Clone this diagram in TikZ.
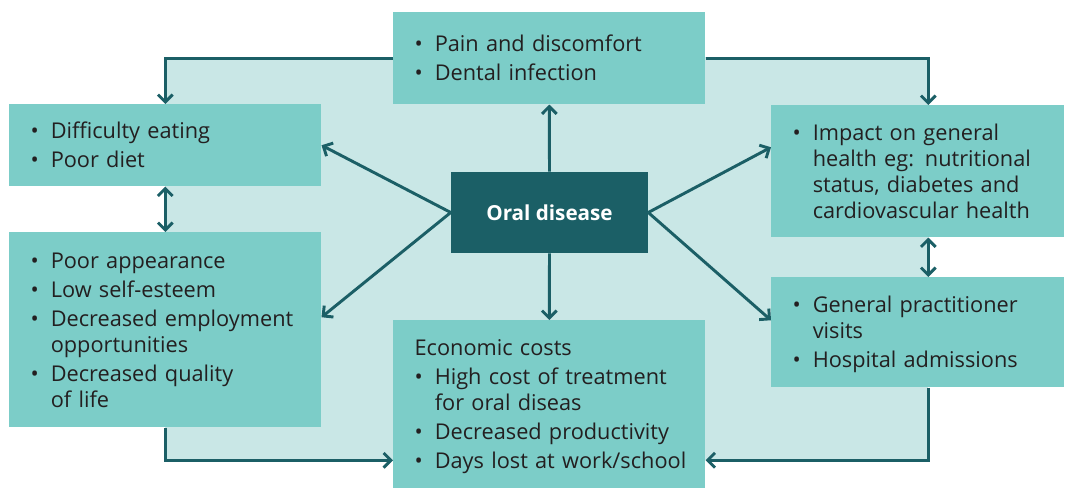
\documentclass[tikz,border=0pt]{standalone}
\usepackage{fontspec}
\setmainfont{Open Sans}
\usetikzlibrary{positioning, arrows.meta}

\definecolor{boxteal}{HTML}{7CCDC8}
\definecolor{paleteal}{HTML}{C9E7E6}
\definecolor{darkteal}{HTML}{1B5F66}
\definecolor{inktext}{HTML}{231F20}
\newcommand{\bl}{\textbullet}
\newcommand{\gap}{\\[2.25pt]}
\newcommand{\boxlist}[1]{\raisebox{-2.25pt}[\height][\depth]{%
  \begin{tabular}{@{}l@{\hspace{9pt}}l@{}}#1\end{tabular}}}

\begin{document}
\begin{tikzpicture}
            [x=0.75pt, y=-0.75pt,
             infobox/.style={fill=boxteal, text=inktext, anchor=north west, inner xsep=16pt, inner ysep=0pt,
                             align=left, font=\fontsize{16.3}{19.5}\selectfont},
             corebox/.style={fill=darkteal, text=white, font=\fontsize{15.5}{18}\selectfont\bfseries,
                             minimum width=147.75pt, minimum height=60.75pt},
             link/.style={draw=darkteal, line width=2.2pt, ->},
             twoway/.style={draw=darkteal, line width=2.2pt, <->},
             >={Straight Barb[length=5.5pt, width=11pt]}]
            \useasboundingbox (0,0) rectangle (1073,488);
            \fill[paleteal] (165,57) rectangle (928,460);

            \node[infobox, text width=202pt, minimum height=69pt] (pain) at (393,12)
                {\boxlist{\bl & Pain and discomfort\gap
                          \bl & Dental infection}};
            \node[infobox, text width=202pt, minimum height=61.5pt] (eat) at (9,104)
                {\boxlist{\bl & Difficulty eating\gap
                          \bl & Poor diet}};
            \node[infobox, text width=202pt, minimum height=146.25pt] (looks) at (9,232)
                {\boxlist{\bl & Poor appearance\gap
                          \bl & Low self-esteem\gap
                          \bl & Decreased employment\\
                              & opportunities\gap
                          \bl & Decreased quality\\
                              & of life}};
            \node[infobox, text width=187.75pt, minimum height=99pt] (health) at (771,105)
                {\boxlist{\bl & Impact on general\\
                              & health eg: nutritional\\
                              & status, diabetes and\\
                              & cardiovascular health}};
            \node[infobox, text width=187.75pt, minimum height=82.5pt] (visits) at (771,277)
                {\boxlist{\bl & General practitioner\\
                              & visits\gap
                          \bl & Hospital admissions}};
            \node[infobox, text width=202pt, minimum height=126pt] (costs) at (393,320)
                {\boxlist{\multicolumn{2}{@{}l@{}}{Economic costs}\gap
                          \bl & High cost of treatment\\
                              & for oral diseas\gap
                          \bl & Decreased productivity\gap
                          \bl & Days lost at work/school}};
            \node[corebox] (oral) at (549.5,212.5) {Oral disease};

            % arrows out of the centre
            \draw[link] (oral.north) -- (pain.south);
            \draw[link] (oral.south) -- (costs.north);
            \draw[link] (oral.west) -- (eat.east);
            \draw[link] (oral.west) -- ([yshift=9.4pt]looks.east);
            \draw[link] (oral.east) -- ([yshift=18pt]health.west);
            \draw[link] (oral.east) -- ([yshift=9pt]visits.west);

            % outer frame
            \draw[link] (pain.west) -| (eat.north);
            \draw[link] (pain.east) -| ([xshift=7.9pt]health.north);
            \draw[link] (looks.south) |- ([yshift=-42pt]costs.west);
            \draw[link] ([xshift=7.9pt]visits.south) |- ([yshift=-42pt]costs.east);
            \draw[twoway] (eat.south) -- (looks.north);
            \draw[twoway] ([xshift=7.9pt]health.south) -- ([xshift=7.9pt]visits.north);
        \end{tikzpicture}
\end{document}
